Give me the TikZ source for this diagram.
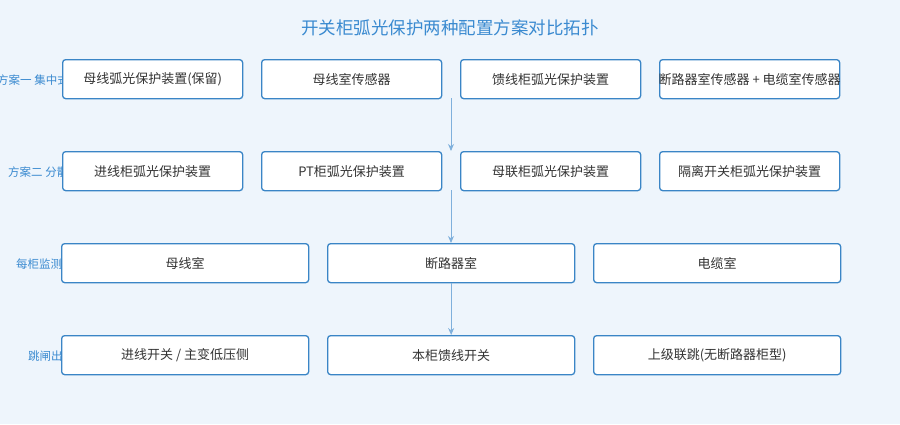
\documentclass[tikz,border=0pt]{standalone}
\usepackage{fontspec}
\setmainfont{Noto Sans CJK SC}
\usetikzlibrary{arrows.meta}
\definecolor{bg}{HTML}{EEF5FC}
\definecolor{bd}{HTML}{3A85C6}
\definecolor{ttl}{HTML}{3A8AD0}
\definecolor{arr}{HTML}{7FB0DC}
\definecolor{txt}{HTML}{333333}
\begin{document}
\begin{tikzpicture}[x=1pt,y=-1pt,
  box/.style={draw=bd,line width=1.3pt,fill=white,rounded corners=3pt,anchor=north west,inner sep=0pt},
  btxt/.style={text=txt,font=\fontsize{13}{15}\selectfont,inner sep=0pt},
  lab/.style={anchor=west,text=ttl,font=\fontsize{11.5}{13}\selectfont,inner sep=0pt},
  ar/.style={draw=arr,line width=1pt,-{Stealth[length=7pt,width=6pt]}}]
\clip (0,0) rectangle (900,424);
\fill[bg] (0,0) rectangle (900,424);
\node[text=ttl,font=\fontsize{17.5}{20}\selectfont] (title) at (450,28) {开关柜弧光保护两种配置方案对比拓扑};
\node[lab] (l1) at (-3,80) {方案一 集中式};
\node[lab] (l2) at (8,172) {方案二 分散式};
\node[lab] (l3) at (16,264) {每柜监测};
\node[lab] (l4) at (28,356) {跳闸出口};
\newcommand{\bx}[5]{\node[box,minimum width=#4pt,minimum height=39pt] (#1) at (#2,#3) {};
  \node[btxt] at (#1.center) {#5};}
\bx{a1}{62}{59}{180}{母线弧光保护装置(保留)}
\bx{a2}{261}{59}{180}{母线室传感器}
\bx{a3}{460}{59}{180}{馈线柜弧光保护装置}
\bx{a4}{659}{59}{180}{断路器室传感器 + 电缆室传感器}
\bx{b1}{62}{151}{180}{进线柜弧光保护装置}
\bx{b2}{261}{151}{180}{PT柜弧光保护装置}
\bx{b3}{460}{151}{180}{母联柜弧光保护装置}
\bx{b4}{659}{151}{180}{隔离开关柜弧光保护装置}
\bx{c1}{61}{243}{247}{母线室}
\bx{c2}{327}{243}{247}{断路器室}
\bx{c3}{593}{243}{247}{电缆室}
\bx{d1}{61}{335}{247}{进线开关 / 主变低压侧}
\bx{d2}{327}{335}{247}{本柜馈线开关}
\bx{d3}{593}{335}{247}{上级联跳(无断路器柜型)}
\coordinate (p1) at (451,98); \coordinate (q1) at (451,151);
\coordinate (p2) at (451,190); \coordinate (q2) at (451,243);
\draw[ar] (p1) -- (q1);
\draw[ar] (p2) -- (q2);
\draw[ar] (c2.south) -- (d2.north);
\end{tikzpicture}
\end{document}
